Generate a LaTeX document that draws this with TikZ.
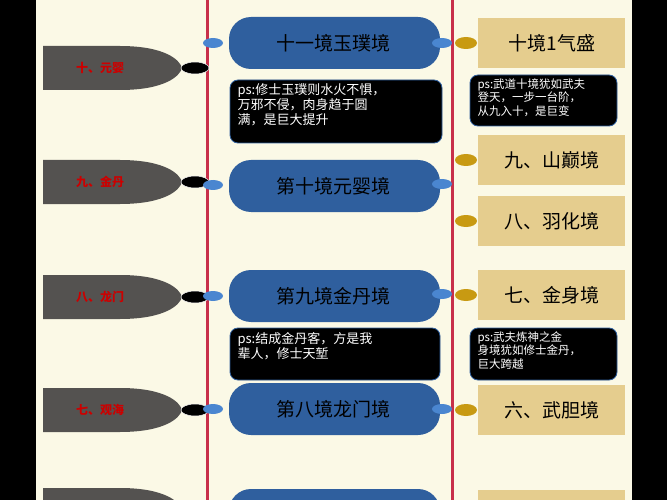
\documentclass[tikz,border=0pt]{standalone}
\usepackage{fontspec}
\newfontfamily\cjk{Noto Sans CJK SC}
\definecolor{cream}{HTML}{FBF9E6}
\definecolor{capblue}{HTML}{2F5F9E}
\definecolor{goldbox}{HTML}{E5CD8E}
\definecolor{goldell}{HTML}{C89A12}
\definecolor{ellblue}{HTML}{4A86D0}
\definecolor{greysh}{HTML}{545250}
\definecolor{redline}{HTML}{C8304A}
\usetikzlibrary{shapes.geometric}
\tikzset{
 capsule/.style={fill=capblue,rounded corners=22pt},
 captext/.style={font=\cjk\fontsize{19}{19}\selectfont,text=black},
 psbox/.style={fill=black,draw=capblue,line width=0.8pt,rounded corners=8pt},
 pstext/.style={font=\cjk\fontsize{13}{15}\selectfont,text=white,align=left,anchor=north west},
 gbox/.style={fill=goldbox},
 gtext/.style={font=\cjk\fontsize{19}{19}\selectfont,text=black},
 bell/.style={ellipse,fill=ellblue,minimum width=20pt,minimum height=10pt,inner sep=0pt},
 gell/.style={ellipse,fill=goldell,minimum width=22pt,minimum height=12pt,inner sep=0pt},
 kell/.style={ellipse,fill=black,draw=white,line width=0.5pt,minimum width=28pt,minimum height=12pt,inner sep=0pt},
 ltext/.style={font=\cjk\bfseries\fontsize{12}{12}\selectfont,text=red!80!black},
}
\begin{document}
\begin{tikzpicture}[x=1pt,y=-1pt]
\useasboundingbox (0,0) rectangle (667,500);
\fill[black] (0,0) rectangle (667,500);
\fill[cream] (36,0) rectangle (632,500);
\draw[redline,line width=3pt] (207,0) -- (207,500);
\draw[redline,line width=3pt] (452,0) -- (452,500);
\foreach \y/\t/\n in {68/{十、元婴}/g1,182/{九、金丹}/g2,297/{八、龙门}/g3,410/{七、观海}/g4,510/{}/g5}{
 \fill[greysh] (43,\y-22) -- (120,\y-22) .. controls (165,\y-22) and (180,\y-8) .. (182,\y) .. controls (180,\y+8) and (165,\y+22) .. (120,\y+22) -- (43,\y+22) -- cycle;
 \node[ltext] (\n) at (100,\y) {\t};
 \node[kell] (k\n) at (195,\y) {};
}
\foreach \y/\t/\n in {43/{十一境玉璞境}/c1,186/{第十境元婴境}/c2,296/{第九境金丹境}/c3,409/{第八境龙门境}/c4,515/{}/c5}{
 \fill[capsule] (229,\y-26) rectangle (440,\y+26);
 \node[captext] (\n) at (333,\y) {\t};
}
\foreach \y/\n in {43/b1,185/b2,296/b3,409/b4}{
 \node[bell] (l\n) at (213,\y) {};
}
\foreach \y/\n in {43/r1,184/r2,294/r3,409/r4}{
 \node[bell] (\n) at (442,\y) {};
}
\path[psbox] (230,80) rectangle (442,143);
\node[pstext] (p1) at (234,80) {ps:修士玉璞则水火不惧，\\万邪不侵，肉身趋于圆\\满，是巨大提升};
\path[psbox] (230,328) rectangle (440,380);
\node[pstext] (p2) at (234,329) {ps:结成金丹客，方是我\\辈人，修士天堑};
\foreach \y/\t/\n in {43/{十境1气盛}/d1,160/{九、山巅境}/d2,221/{八、羽化境}/d3,295/{七、金身境}/d4,410/{六、武胆境}/d5,515/{}/d6}{
 \fill[gbox] (478,\y-25) rectangle (625,\y+25);
 \node[gtext] (\n) at (552,\y) {\t};
 \node[gell] (e\n) at (466,\y) {};
}
\path[psbox] (470,75) rectangle (617,126);
\node[pstext,font=\cjk\fontsize{11.5}{13.5}\selectfont] (p3) at (474,75) {ps:武道十境犹如武夫\\登天，一步一台阶，\\从九入十，是巨变};
\path[psbox] (470,328) rectangle (617,380);
\node[pstext,font=\cjk\fontsize{11.5}{13.5}\selectfont] (p4) at (474,328) {ps:武夫炼神之金\\身境犹如修士金丹，\\巨大跨越};
\end{tikzpicture}
\end{document}
